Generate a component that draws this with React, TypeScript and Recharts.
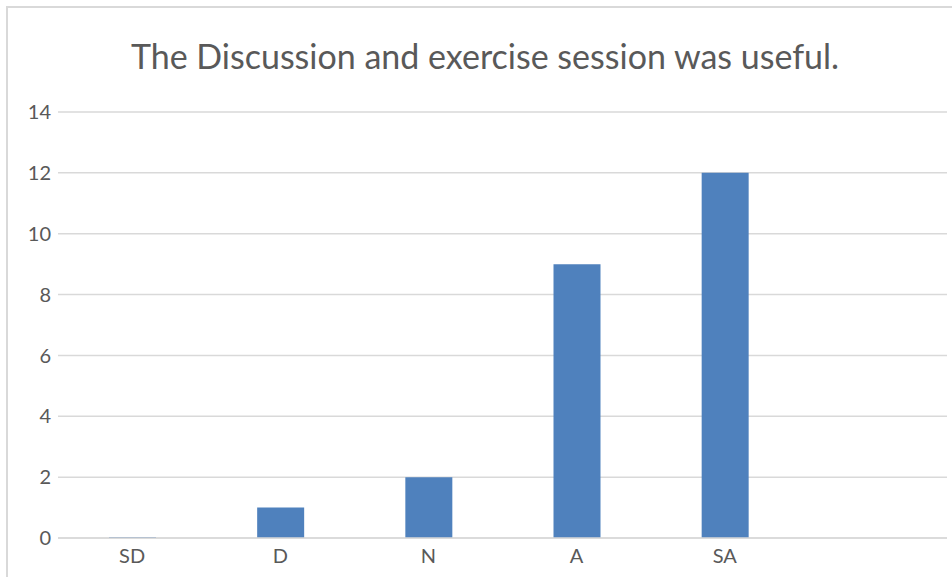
import React from "react";
import { BarChart, Bar, XAxis, YAxis, CartesianGrid } from "recharts";

const categories = ["SD", "D", "N", "A", "SA", ""];
const counts: (number | null)[] = [0, 1, 2, 9, 12, null];
const yTicks = [0, 2, 4, 6, 8, 10, 12, 14];
const title = "The Discussion and exercise session was useful.";

const data = categories.map((c, i) => ({ name: c, value: counts[i] }));

const font = "Lato, 'Open Sans', sans-serif";

export default function App() {
  return (
    <div style={{ position: "absolute", left: 0, top: 0, width: 952, height: 577, background: "#fff", overflow: "hidden", fontFamily: font }}>
      <div style={{ position: "absolute", left: 6, top: 6, width: 960, height: 600, borderTop: "2px solid #d9d9d9", borderLeft: "2px solid #d9d9d9" }} />
      <div style={{ position: "absolute", left: 0, top: 35, width: 970, textAlign: "center", fontSize: 34, color: "#595959", lineHeight: "42px" }}>
        {title}
      </div>
      <div style={{ position: "absolute", left: 0, top: 0 }}>
        <BarChart width={952} height={577} data={data} margin={{ top: 112, right: 5, bottom: 9, left: 0 }}>
          <CartesianGrid vertical={false} stroke="#d9d9d9" strokeWidth={1.5} />
          <XAxis
            dataKey="name"
            height={30}
            tickLine={false}
            axisLine={{ stroke: "#d9d9d9", strokeWidth: 1.5 }}
            tick={{ fill: "#595959", fontSize: 20, fontFamily: font }}
            fontSize={20}
            tickMargin={5}
            interval={0}
          />
          <YAxis
            width={58}
            domain={[0, 14]}
            ticks={yTicks}
            tickLine={false}
            axisLine={false}
            tick={{ fill: "#595959", fontSize: 20, fontFamily: font, dx: 1 }}
            fontSize={20}
          />
          <Bar dataKey="value" fill="#4f81bd" barSize={47} minPointSize={1} isAnimationActive={false} />
        </BarChart>
      </div>
    </div>
  );
}
